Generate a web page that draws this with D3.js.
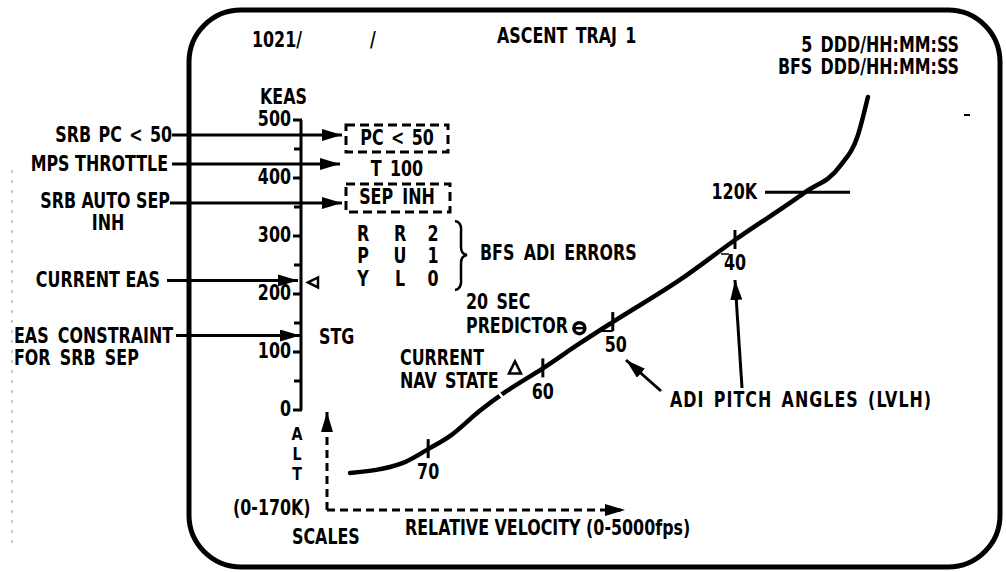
<!DOCTYPE html>
<html>
<head>
<meta charset="utf-8">
<script src="https://cdn.jsdelivr.net/npm/d3@7"></script>
<style>
  html, body { margin: 0; padding: 0; background: #fff; }
  svg text { font-family: "DejaVu Sans Condensed", "DejaVu Sans", sans-serif; font-weight: bold; fill: #000; }
</style>
</head>
<body>
<svg id="chart" width="1006" height="572"></svg>
<script>
// ---------------- DATA ----------------
// KEAS scale
const keasTicks = [0, 100, 200, 300, 400, 500];
const keasMinorTicks = [50, 150, 250, 350, 450];
const currentEAS = 220;       // KEAS
const stgEAS = 125;           // KEAS (EAS constraint for SRB sep)

// Ascent trajectory: relative velocity (fps) vs altitude (K ft)
const trajVelocity = [175, 590, 795, 970, 1205, 1405, 1705, 2000, 2260, 2795, 3230, 3785, 4065, 4205, 4285];
const trajAltitude = [14, 17.7, 23, 28, 37.5, 44.5, 53.5, 63, 71, 87, 102, 120, 130, 141.5, 156];

// ADI pitch angle marks along trajectory
const pitchLabels = ["70", "60", "50", "40"];
const pitchVelocity = [795, 1705, 2260, 3230];
const pitchAltitude = [23, 53.5, 71, 102];

// Markers
const navStateVelocity = 1484, navStateAltitude = 53.5;
const predictorVelocity = 1995, predictorAltitude = 68.7;
const altLine120K = 120;

// BFS ADI errors table
const adiRowLabels = ["R", "P", "Y"];
const adiScaleLabels = ["R", "U", "L"];
const adiScaleValues = ["2", "1", "0"];

// ---------------- DRAWING ----------------
const svg = d3.select("#chart");
const FS = 19;
const SX = 0.93, SY = 1.07;   // condensed, tall lettering

const keas = d3.scaleLinear().domain([0, 500]).range([410, 120]);
const xVel = d3.scaleLinear().domain([0, 5000]).range([328, 958]);
const yAlt = d3.scaleLinear().domain([0, 170]).range([510, 60]);

// defs: arrowheads
const defs = svg.append("defs");
defs.append("marker").attr("id", "arr").attr("viewBox", "0 0 20 12")
  .attr("refX", 20).attr("refY", 6).attr("markerWidth", 20).attr("markerHeight", 12)
  .attr("markerUnits", "userSpaceOnUse").attr("orient", "auto")
  .append("path").attr("d", "M0,0 L20,6 L0,12 Z").attr("fill", "#000");

function text(str, x, y, anchor = "start", size = FS) {
  return svg.append("text")
    .attr("transform", `translate(${x},${y}) scale(${SX},${SY})`)
    .attr("x", 0).attr("y", 0).attr("dy", "0.36em")
    .attr("text-anchor", anchor).attr("font-size", size).text(str);
}
function arrow(x1, y1, x2, y2, w = 3) {
  svg.append("line").attr("x1", x1).attr("y1", y1).attr("x2", x2).attr("y2", y2)
    .attr("stroke", "#000").attr("stroke-width", w).attr("marker-end", "url(#arr)");
}
function line(x1, y1, x2, y2, w = 3, dash = null, color = "#000") {
  const l = svg.append("line").attr("x1", x1).attr("y1", y1).attr("x2", x2).attr("y2", y2)
    .attr("stroke", color).attr("stroke-width", w);
  if (dash) l.attr("stroke-dasharray", dash);
  return l;
}

// faint scan line on far left
line(12, 170, 12, 545, 1.2, "3,7", "#aaa");

// Display frame
svg.append("rect").attr("x", 189).attr("y", 10).attr("width", 811).attr("height", 557)
  .attr("rx", 52).attr("ry", 52).attr("fill", "none").attr("stroke", "#000").attr("stroke-width", 5);

// Header
text("1021/", 252, 40);
text("/", 370, 40);
text("ASCENT TRAJ 1", 497, 36).attr("word-spacing", 3);
text("5 DDD/HH:MM:SS", 959, 45, "end").attr("word-spacing", 3);
text("BFS DDD/HH:MM:SS", 959, 67, "end").attr("word-spacing", 3);
line(964, 115, 970, 115, 2);

// KEAS scale
text("KEAS", 260, 97);
svg.append("line").attr("x1", 301).attr("x2", 301).attr("y1", keas(500)).attr("y2", keas(0))
  .attr("stroke", "#000").attr("stroke-width", 3);
svg.selectAll(".kmaj").data(keasTicks).join("line")
  .attr("x1", 293).attr("x2", 302).attr("y1", d => keas(d)).attr("y2", d => keas(d))
  .attr("stroke", "#000").attr("stroke-width", 3);
svg.selectAll(".kmin").data(keasMinorTicks).join("line")
  .attr("x1", 294).attr("x2", 302).attr("y1", d => keas(d)).attr("y2", d => keas(d))
  .attr("stroke", "#000").attr("stroke-width", 3);
keasTicks.forEach(d => text(String(d), 291, keas(d) - 1, "end"));

// Left annotations and arrows
text("SRB PC < 50", 172, 135, "end").attr("word-spacing", 2);
arrow(172, 135, 342, 135);
text("MPS THROTTLE", 168, 164, "end");
arrow(172, 164, 340, 164);
text("SRB AUTO SEP", 170, 201, "end");
text("INH", 108, 223, "middle");
arrow(170, 203, 342, 203);
text("CURRENT EAS", 160, 280, "end");
arrow(167, keas(currentEAS) - 2, 298, keas(currentEAS) - 2);
text("EAS CONSTRAINT", 14, 336).attr("word-spacing", 4);
text("FOR SRB SEP", 14, 358).attr("word-spacing", 4);
arrow(176, keas(stgEAS) - 2, 300, keas(stgEAS) - 2);

// current EAS marker (triangle pointing left)
{
  const y = keas(currentEAS);
  svg.append("path").attr("d", `M308,${y} L318,${y - 5} L318,${y + 5} Z`)
    .attr("fill", "none").attr("stroke", "#000").attr("stroke-width", 2.5);
}
text("STG", 319, keas(stgEAS) - 1);

// Dashed boxes
svg.append("rect").attr("x", 346).attr("y", 125).attr("width", 102).attr("height", 27)
  .attr("fill", "none").attr("stroke", "#000").attr("stroke-width", 3).attr("stroke-dasharray", "9,5");
text("PC < 50", 397, 138, "middle").attr("word-spacing", 2);
text("T 100", 397, 169, "middle").attr("word-spacing", 3);
svg.append("rect").attr("x", 346).attr("y", 184).attr("width", 104).attr("height", 28)
  .attr("fill", "none").attr("stroke", "#000").attr("stroke-width", 3).attr("stroke-dasharray", "9,5");
text("SEP INH", 397, 197, "middle").attr("word-spacing", 4);

// BFS ADI errors table
const colX = [363, 400, 433];
const rowY = [234, 256, 279];
adiRowLabels.forEach((d, i) => text(d, colX[0], rowY[i], "middle"));
adiScaleLabels.forEach((d, i) => text(d, colX[1], rowY[i], "middle"));
adiScaleValues.forEach((d, i) => text(d, colX[2], rowY[i], "middle"));
svg.append("path")
  .attr("d", "M455,221 Q462,222 461,232 L461,247 Q461,254 467,255 Q461,256 461,263 L461,279 Q462,289 455,290")
  .attr("fill", "none").attr("stroke", "#000").attr("stroke-width", 2.5);
text("BFS ADI ERRORS", 480, 253).attr("word-spacing", 4);

// Trajectory
const traj = trajVelocity.map((v, i) => [v, trajAltitude[i]]);
svg.append("path").datum(traj)
  .attr("d", d3.line().x(d => xVel(d[0])).y(d => yAlt(d[1])).curve(d3.curveMonotoneX))
  .attr("fill", "none").attr("stroke", "#000").attr("stroke-width", 4.5).attr("stroke-linecap", "round");
// small gap in trajectory near current nav state
svg.append("line")
  .attr("x1", xVel(1370) - 4).attr("y1", yAlt(43.5) - 5).attr("x2", xVel(1370) + 4).attr("y2", yAlt(43.5) + 5)
  .attr("stroke", "#fff").attr("stroke-width", 2.5);

// Pitch ticks
pitchVelocity.forEach((v, i) => {
  const x = xVel(v), y = yAlt(pitchAltitude[i]);
  line(x, y - 10, x, y + 9, 3);
  text(pitchLabels[i], x + (i === 2 ? 3 : 0), y + 23, "middle");
});
// small bars at the 50 and 40 marks
line(xVel(pitchVelocity[2]) - 11, yAlt(pitchAltitude[2]) + 9, xVel(pitchVelocity[2]), yAlt(pitchAltitude[2]) + 9, 2);
line(xVel(pitchVelocity[3]) - 14, yAlt(pitchAltitude[3]) + 14, xVel(pitchVelocity[3]) - 6, yAlt(pitchAltitude[3]) + 14, 1.5);

// 120K line
svg.append("line").attr("x1", 765).attr("x2", 850).attr("y1", yAlt(altLine120K)).attr("y2", yAlt(altLine120K))
  .attr("stroke", "#000").attr("stroke-width", 3);
text("120K", 757, yAlt(altLine120K) - 1, "end");

// Current nav state triangle
{
  const x = xVel(navStateVelocity), y = yAlt(navStateAltitude);
  svg.append("path").attr("d", `M${x},${y - 7} L${x + 6},${y + 5} L${x - 6},${y + 5} Z`)
    .attr("fill", "none").attr("stroke", "#000").attr("stroke-width", 2.5);
}
text("CURRENT", 400, 358);
text("NAV STATE", 400, 381).attr("word-spacing", 3);

// Predictor marker
{
  const x = xVel(predictorVelocity), y = yAlt(predictorAltitude);
  svg.append("circle").attr("cx", x).attr("cy", y).attr("r", 5.5)
    .attr("fill", "none").attr("stroke", "#000").attr("stroke-width", 3.5);
  line(x - 5, y, x + 5, y, 2.5);
}
text("20 SEC", 466, 302).attr("word-spacing", 3);
text("PREDICTOR", 466, 326);

// ADI pitch annotation
text("ADI PITCH ANGLES (LVLH)", 670, 400).attr("word-spacing", 3).attr("letter-spacing", 1.1);
arrow(661, 391, 626, 360);
arrow(742, 388, 735, 280);

// Scales
text("A", 297, 433, "middle", 17);
text("L", 297, 453, "middle", 17);
text("T", 297, 473, "middle", 17);
text("(0-170K)", 233, 508);
text("SCALES", 292, 537);
svg.append("line").attr("x1", 327).attr("y1", 510).attr("x2", 327).attr("y2", 412)
  .attr("stroke", "#000").attr("stroke-width", 3).attr("stroke-dasharray", "8,5").attr("marker-end", "url(#arr)");
svg.append("line").attr("x1", 327).attr("y1", 510).attr("x2", 625).attr("y2", 510)
  .attr("stroke", "#000").attr("stroke-width", 3).attr("stroke-dasharray", "8,5").attr("marker-end", "url(#arr)");
text("RELATIVE VELOCITY (0-5000fps)", 405, 528);
</script>
</body>
</html>
